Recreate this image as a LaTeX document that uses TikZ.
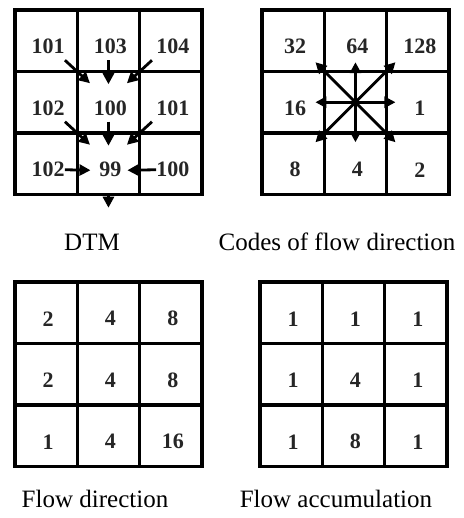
\documentclass[tikz,border=0pt]{standalone}
\usepackage{fontspec}
\setmainfont{Liberation Serif}
\usetikzlibrary{arrows.meta,calc}
\begin{document}
\begin{tikzpicture}[x=1pt,y=-1pt,
  cell/.style={draw, line width=3.4pt, minimum width=62.3pt, minimum height=61.5pt, inner sep=0pt, outer sep=0pt},
  num/.style={font=\fontsize{22}{26}\selectfont\bfseries, inner sep=0pt, text=black!85},
  captext/.style={font=\fontsize{25}{30}\selectfont, inner sep=0pt, anchor=base},
  flow/.style={line width=2.8pt, -{Triangle[length=11pt,width=11pt]}}]
\useasboundingbox (0,0) rectangle (463,518);
% grids
\foreach \g/\x/\y in {d/15/10, c/262/10, f/15/282, a/260/282} {
  \foreach \i in {1,2,3} {
    \foreach \j in {1,2,3} {
      \node[cell] (\g\i\j) at ({\x+(\j-0.5)*62.3},{\y+(\i-0.5)*61.5}) {};
    }
  }
}
% numbers
\foreach \g/\vals in {d/{101,103,104,102,100,101,102,99,100},
                      c/{32,64,128,16,,1,8,4,2},
                      f/{2,4,8,2,4,8,1,4,16},
                      a/{1,1,1,1,4,1,1,8,1}} {
  \foreach \v [count=\k from 0] in \vals {
    \pgfmathtruncatemacro\ii{int(\k/3)+1}
    \pgfmathtruncatemacro\jj{mod(\k,3)+1}
    \node[num] (\g t\ii\jj) at ($(\g\ii\jj)+(2,6)$) {\v};
  }
}
% DTM flow arrows
\draw[flow] ($(d22)+(-43.5,-42)$) -- ($(d22)+(-18.5,-19)$);
\draw[flow] ($(d22)+(0,-42)$) -- ($(d22)+(0,-18)$);
\draw[flow] ($(d22)+(43.5,-42)$) -- ($(d22)+(18.5,-19)$);
\draw[flow] ($(d32)+(-43.5,-42)$) -- ($(d32)+(-18.5,-19)$);
\draw[flow] ($(d32)+(0,-42)$) -- ($(d32)+(0,-18)$);
\draw[flow] ($(d32)+(43.5,-42)$) -- ($(d32)+(18.5,-19)$);
\draw[flow] (dt31.east) -- ($(d32)+(-18,6.5)$);
\draw[flow] (dt33.west) -- ($(d32)+(19,6.5)$);
\draw[flow] ($(d32)+(0,30)$) -- ($(d32)+(0,44)$);
% code arrows
\foreach \dx/\dy in {0/-40, 40/-40, 40/0, 40/40, 0/40, -40/40, -40/0, -40/-40}
  \draw[flow] (c22.center) -- ($(c22)+(\dx,\dy)$);
% captions
\node[captext] (capd) at (92,250) {DTM};
\node[captext] (capc) at (337,250) {Codes of flow direction};
\node[captext] (capf) at (95,507) {Flow direction};
\node[captext] (capa) at (336,507) {Flow accumulation};
\end{tikzpicture}
\end{document}
